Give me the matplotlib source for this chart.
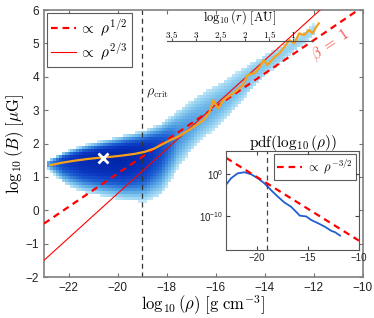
import numpy as np
import matplotlib
matplotlib.use("Agg")
import matplotlib.pyplot as plt
from matplotlib.colors import LinearSegmentedColormap

plt.rcParams['mathtext.fontset'] = 'cm'
plt.rcParams['font.family'] = ['Liberation Sans', 'DejaVu Sans']

# ---- data ----
# 2D histogram envelope (per column): x, top edge, bottom edge, ridge, peak level
env_x = [-22.85, -22.2, -21.4, -20.6, -19.75, -18.9, -18.25, -17.5, -16.7,
         -16.1, -15.55, -15.0, -14.5, -13.9, -13.4, -12.9, -12.4, -11.9]
env_top = [1.5, 1.75, 1.95, 2.1, 2.25, 2.4, 2.6, 3.0, 3.45, 3.7, 3.95, 4.2,
           4.45, 4.7, 4.9, 5.1, 5.35, 5.65]
env_bot = [1.25, 0.8, 0.55, 0.42, 0.3, 0.25, 0.45, 1.3, 2.05, 2.4, 2.8, 3.2,
           3.65, 4.1, 4.4, 4.7, 5.0, 5.3]
env_mid = [1.38, 1.5, 1.55, 1.6, 1.65, 1.75, 1.95, 2.3, 2.75, 3.05, 3.35, 3.7,
           4.05, 4.4, 4.65, 4.9, 5.15, 5.45]
env_peak = [0.4, 0.75, 0.92, 1.0, 1.0, 0.9, 0.7, 0.42, 0.33, 0.3, 0.27, 0.24,
            0.22, 0.2, 0.17, 0.15, 0.12, 0.1]

# mean log B vs log rho (orange)
mean_x = [-22.75, -22.3, -21.8, -21.3, -20.8, -20.3, -19.8, -19.3, -18.9,
          -18.5, -18.2, -17.8, -17.5, -17.1, -16.8, -16.5, -16.25, -16.1,
          -15.9, -15.7, -15.5, -15.2, -14.9, -14.7, -14.4, -14.2, -14.05,
          -13.9, -13.6, -13.4, -13.2, -13.0, -12.8, -12.6, -12.4, -12.2,
          -12.05, -11.9, -11.8]
mean_y = [1.35, 1.42, 1.48, 1.53, 1.57, 1.6, 1.64, 1.69, 1.75, 1.85, 1.97,
          2.12, 2.22, 2.4, 2.55, 2.7, 2.95, 3.3, 3.05, 3.3, 3.4, 3.55, 3.75,
          4.05, 4.12, 4.3, 4.5, 4.35, 4.6, 4.7, 4.9, 5.1, 5.0, 5.3, 5.25, 5.4,
          5.3, 5.5, 5.6]

x_peak, y_peak = -20.6, 1.56
rho_crit = -19.0
line_x = [-23, -10]
half_y0 = -0.4      # rho^(1/2) line value at -23
twothird_y0 = -1.5  # rho^(2/3) line value at -23

# pdf of log rho (inset)
pdf_x = [-22.95, -22.5, -21.85, -21.2, -20.55, -19.9, -19.25, -18.6, -17.95,
         -17.3, -16.65, -16.15, -15.8, -15.5, -15.15, -14.7, -14.0, -13.35,
         -12.7, -12.35, -11.85]
pdf_log = [-2.4, -1.0, 0.16, 0.4, -0.07, -1.0, -2.2, -3.8, -5.3, -6.7, -7.7,
           -8.9, -9.8, -9.9, -10.0, -10.8, -11.6, -12.4, -13.4, -13.7, -14.5]
pdf_line_y0 = 3.8   # log10 of rho^(-3/2) guide at -23

# top axis: log10(r) in AU
r_ticks = [3.5, 3, 2.5, 2, 1.5, 1]

# ---- figure ----
fig = plt.figure(figsize=(3.74, 3.18), dpi=100)
ax = fig.add_axes([0.1176, 0.1289, 0.853, 0.8396])

cmap = LinearSegmentedColormap.from_list(
    "bl", ["#c3e8f8", "#86c9ee", "#4a98e0", "#1a5bd0", "#0a35c0", "#0025a8"])

xe = np.arange(-23.0, -11.5, 0.12)
ye = np.arange(-0.5, 6.0, 0.09)
xc = 0.5 * (xe[1:] + xe[:-1])
yc = 0.5 * (ye[1:] + ye[:-1])
top = np.interp(xc, env_x, env_top, left=np.nan, right=np.nan)
bot = np.interp(xc, env_x, env_bot, left=np.nan, right=np.nan)
mid = np.interp(xc, env_x, env_mid, left=np.nan, right=np.nan)
pk = np.interp(xc, env_x, env_peak, left=np.nan, right=np.nan)
Y = yc[:, None]
d = np.where(Y >= mid, (Y - mid) / (top - mid), (mid - Y) / (mid - bot))
val = pk * (1 - d ** 2)
val = np.ma.masked_where(~(val > 0), val)
ax.pcolormesh(xe, ye, val, cmap=cmap, vmin=0, vmax=1, zorder=1)

xl = np.array(line_x, dtype=float)
ax.plot(xl, half_y0 + 0.5 * (xl + 23), color="red", lw=1.6, ls=(0, (3, 2.2)),
        zorder=3, label=r"$\propto\ \rho^{1/2}$")
ax.plot(xl, twothird_y0 + 2 / 3 * (xl + 23), color="red", lw=0.8, zorder=3,
        label=r"$\propto\ \rho^{2/3}$")
ax.axvline(rho_crit, color="#333333", lw=0.9, ls=(0, (4, 3)), zorder=2)
ax.plot(mean_x, mean_y, color="#f7a11a", lw=1.6, zorder=4)
ax.plot([x_peak], [y_peak], marker="x", color="white", ms=7, mew=2, zorder=5)

ax.text(-18.85, 3.45, r"$\rho_{\mathrm{crit}}$", fontsize=10, color="#222222")
ax.text(-11.3, 4.95, r"$\beta\ =\ 1$", fontsize=11, color="#f05050",
        rotation=34, ha="center", va="center", rotation_mode="anchor")

ax.set_xlim(-23, -10)
ax.set_ylim(-2, 6)
ax.set_xticks(range(-22, -9, 2))
ax.set_yticks(range(-2, 7))
ax.tick_params(direction="in", length=3, labelsize=8.5, top=True, right=True,
               color="0.45", labelcolor="#222222")
for s in ax.spines.values():
    s.set_color("0.5")
    s.set_linewidth(1.2)
ax.set_xlabel(r"$\log_{10}(\rho)\ [\mathrm{g\ cm}^{-3}]$", fontsize=12,
              labelpad=0)
ax.set_ylabel(r"$\log_{10}(B)\ [\mu\mathrm{G}]$", fontsize=12, labelpad=0)

leg = ax.legend(loc="upper left", bbox_to_anchor=(0.008, 0.99),
                borderaxespad=0, fancybox=False, fontsize=11, handlelength=1.6,
                handletextpad=0.2, borderpad=0.3, labelspacing=0.2)
leg.get_frame().set_edgecolor("#333333")
leg.get_frame().set_linewidth(0.8)

# top radius axis
rax = fig.add_axes([0.4465, 0.871, 0.39, 0.0001])
rax.set_xlim(3.6, 0.6)
rax.set_yticks([])
rax.set_xticks(r_ticks)
rax.set_xticklabels([f"${t:g}$" for t in r_ticks])
rax.patch.set_visible(False)
for k in ("top", "left", "right"):
    rax.spines[k].set_visible(False)
rax.spines["bottom"].set_color("#555555")
rax.spines["bottom"].set_linewidth(0.8)
rax.tick_params(axis="x", direction="in", length=2, bottom=True, top=False,
                labelbottom=False, labeltop=True, labelsize=6.5, pad=1,
                color="#555555")
rax.xaxis.set_label_position("top")
rax.set_xlabel(r"$\log_{10}(r)\ [\mathrm{AU}]$", fontsize=9, labelpad=5)

# inset: pdf
iax = fig.add_axes([0.6043, 0.2138, 0.3556, 0.3113])
iax.set_yscale("log")
px = np.array(pdf_x)
iax.plot(px, 10.0 ** np.array(pdf_log), color="#1f5fd0", lw=1.3)
iax.plot(xl, 10.0 ** (pdf_line_y0 - 1.5 * (xl + 23)), color="red", lw=1.6,
         ls=(0, (3, 2.2)), label=r"$\propto\ \rho^{-3/2}$")
iax.axvline(rho_crit, color="#444444", lw=0.9, ls=(0, (4, 3)))
iax.set_xlim(-23, -10)
iax.set_ylim(10.0 ** -17.9, 10.0 ** 5.4)
iax.set_xticks([-20, -15, -10])
iax.set_xticklabels(["\u221220", "\u221215", "\u221210"])
iax.set_yticks([1e-10, 1e0])
iax.set_yticklabels([r"$\mathregular{10^{-10}}$", r"$\mathregular{10^{0}}$"])
iax.minorticks_off()
iax.tick_params(direction="in", length=3, labelsize=7, top=True, right=True,
                color="#444444", labelcolor="#222222", pad=2)
for s in iax.spines.values():
    s.set_color("#555555")
    s.set_linewidth(0.8)
il = iax.legend(loc="upper right", bbox_to_anchor=(0.975, 0.965),
                borderaxespad=0, fancybox=False, fontsize=9, handlelength=2.0,
                handletextpad=0.3, borderpad=0.25)
il.get_frame().set_edgecolor("#333333")
il.get_frame().set_linewidth(0.8)
iax.set_title(r"$\mathrm{pdf}(\log_{10}(\rho))$", fontsize=11, pad=3)

fig.savefig("out.png", dpi=100)
